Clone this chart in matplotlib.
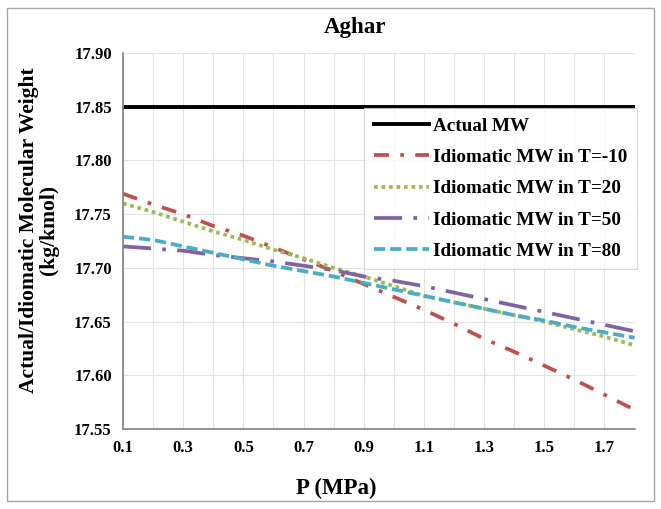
import matplotlib
matplotlib.use('Agg')
import matplotlib.pyplot as plt
from matplotlib.patches import Rectangle

# P (MPa) categories
pressure = [0.1, 0.2, 0.3, 0.4, 0.5, 0.6, 0.7, 0.8, 0.9,
            1.0, 1.1, 1.2, 1.3, 1.4, 1.5, 1.6, 1.7, 1.8]
tick_labels = ['0.1', '0.3', '0.5', '0.7', '0.9', '1.1', '1.3', '1.5', '1.7']

actual_mw = [17.85] * len(pressure)
mw_t_m10 = [17.769, 17.759, 17.750, 17.739, 17.730, 17.719, 17.708, 17.697, 17.685,
            17.673, 17.661, 17.648, 17.634, 17.622, 17.609, 17.596, 17.582, 17.568]
mw_t20 = [17.760, 17.752, 17.743, 17.734, 17.726, 17.717, 17.709, 17.700, 17.692,
          17.683, 17.674, 17.668, 17.662, 17.656, 17.650, 17.643, 17.636, 17.628]
mw_t50 = [17.720, 17.718, 17.716, 17.712, 17.709, 17.706, 17.702, 17.698, 17.692,
          17.688, 17.683, 17.677, 17.671, 17.665, 17.659, 17.653, 17.647, 17.641]
mw_t80 = [17.729, 17.726, 17.720, 17.714, 17.708, 17.702, 17.697, 17.692, 17.686,
          17.680, 17.674, 17.668, 17.662, 17.656, 17.651, 17.645, 17.640, 17.635]

plt.rcParams['font.family'] = ['Liberation Serif', 'DejaVu Serif']
plt.rcParams['font.weight'] = 'bold'

fig = plt.figure(figsize=(6.61, 5.09), dpi=100)
ax = fig.add_axes([0.186, 0.157, 0.774, 0.739])

# outer chart frame
fig.patches.append(Rectangle((7 / 661, 8 / 509), 647 / 661, 493 / 509,
                             transform=fig.transFigure, fill=False,
                             edgecolor='#a6a6a6', linewidth=1.0))

ax.plot(pressure, actual_mw, color='black', linewidth=2.8, label='Actual MW')
ax.plot(pressure, mw_t_m10, color='#C0504D', linewidth=2.7,
        dashes=(4, 3, 1, 3), label='Idiomatic MW in T=-10')
ax.plot(pressure, mw_t20, color='#9BBB59', linewidth=2.7,
        dashes=(1, 1), label='Idiomatic MW in T=20')
ax.plot(pressure, mw_t50, color='#8064A2', linewidth=2.7,
        dashes=(7.5, 3, 1, 3), label='Idiomatic MW in T=50')
ax.plot(pressure, mw_t80, color='#4BACC6', linewidth=2.7,
        dashes=(3, 1.3), label='Idiomatic MW in T=80')

ax.set_xlim(pressure[0], pressure[-1])
ax.set_ylim(17.55, 17.90)
ax.set_xticks([float(t) for t in tick_labels])
ax.set_xticklabels(tick_labels)
ax.set_xticks(pressure, minor=True)
ax.set_yticks([17.55, 17.60, 17.65, 17.70, 17.75, 17.80, 17.85, 17.90])
ax.set_yticklabels(['%.2f' % v for v in ax.get_yticks()])
ax.tick_params(axis='both', which='both', length=0, labelsize=12, pad=8)
ax.grid(True, which='both', color='#e3e3e3', linewidth=0.8)
ax.set_axisbelow(True)

for side in ['top', 'right']:
    ax.spines[side].set_visible(False)
for side in ['left', 'bottom']:
    ax.spines[side].set_color('#808080')
    ax.spines[side].set_linewidth(1.2)

fig.text(355 / 661, 1 - 27 / 509, 'Aghar', fontsize=16.5, fontweight='bold',
         ha='center', va='center')
fig.text(336 / 661, 1 - 488 / 509, 'P (MPa)', fontsize=16.5, fontweight='bold',
         ha='center', va='center')
fig.text(39 / 661, 1 - 230 / 509, 'Actual/Idiomatic Molecular Weight\n(kg/kmol)',
         fontsize=15.5, fontweight='bold', rotation=90, ha='center', va='center',
         multialignment='center', linespacing=1.05)

leg = ax.legend(loc='upper right', bbox_to_anchor=(1.005, 0.854), fontsize=13.8,
                frameon=True, fancybox=False, handlelength=2.9, handletextpad=0.2,
                borderpad=0.5, labelspacing=0.72, borderaxespad=0.0)
leg.get_frame().set_edgecolor('#d0d0d0')
leg.get_frame().set_linewidth(0.8)

fig.savefig('out.png', dpi=100)
